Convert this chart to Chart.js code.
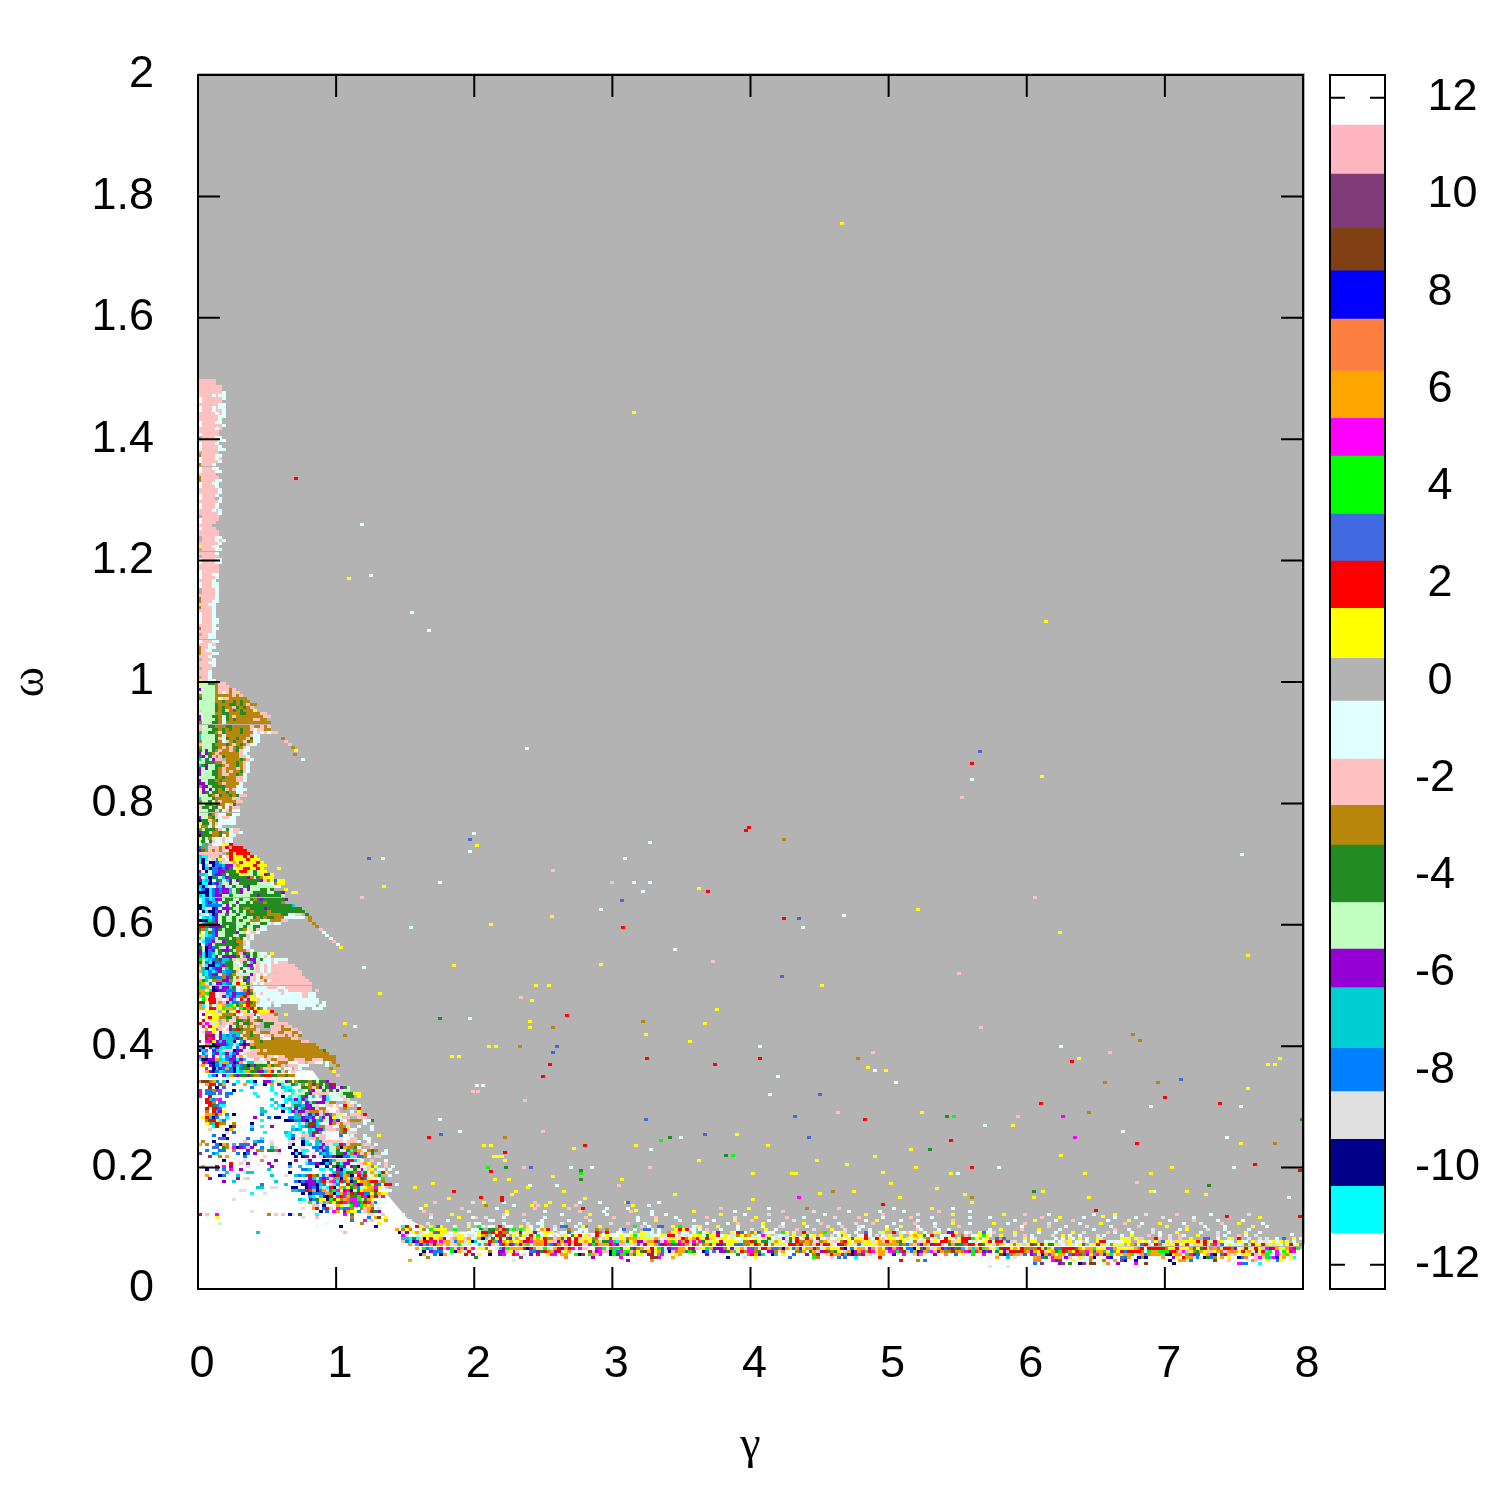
<!DOCTYPE html>
<html>
<head>
<meta charset="utf-8">
<script src="https://cdn.jsdelivr.net/npm/chart.js@4"></script>
<style>
  body { margin: 0; background: #fff; }
  canvas { position: absolute; top: 0; }
</style>
</head>
<body>
<canvas id="mapChart" width="1500" height="1500" style="left:0"></canvas>
<canvas id="barChart" width="220" height="1500" style="left:1280px"></canvas>
<script>
// one letter per colour level of the map
const levelChars = ['w','P','U','B','b','o','O','m','l','r','R','y','.','c','p','g','f','G','v','t','d','e','n','C'];
const levelColors = ['#ffffff','#ffb6c1','#803c78','#804014','#0000ff','#ff7f40','#ffa500','#ff00ff','#00ff00','#4169e1','#ff0000','#ffff00','#b3b3b3','#e0ffff','#ffc0c0','#b8860b','#228b22','#c0ffc0','#9400d3','#00ced1','#007fff','#e0e0e0','#00008b','#00ffff'];

const xTicks = [0,1,2,3,4,5,6,7,8];
const yTicks = [0,0.2,0.4,0.6,0.8,1,1.2,1.4,1.6,1.8,2];
const barTicks = [-12,-10,-8,-6,-4,-2,0,2,4,6,8,10,12];
const barEdges = [-12.5,-11.36,-10.39,-9.42,-8.44,-7.55,-6.3,-5.51,-4.55,-3.37,-2.55,-1.6,-0.41,0.47,1.5,2.47,3.44,4.63,5.41,6.38,7.45,8.44,9.32,10.43,11.44,12.47];
const barColors = ['#ffffff','#00ffff','#00008b','#e0e0e0','#007fff','#00ced1','#9400d3','#c0ffc0','#228b22','#b8860b','#ffc0c0','#e0ffff','#b3b3b3','#ffff00','#ff0000','#4169e1','#00ff00','#ff00ff','#ffa500','#ff7f40','#0000ff','#804014','#803c78','#ffb6c1','#ffffff'];

// lower edge of the grey area, gamma and omega
const floorGamma = [0,0.83,1.0,1.1,1.23,1.42,1.52,1.7,3.6,5.8,6,8];
const floorOmega = [0.36,0.36,0.307,0.25,0.196,0.142,0.115,0.095,0.09,0.08,0.072,0.066];

// grid cells, top row first, space = nothing drawn
const rowsPink = [ // omega 1.495 down to 1.0
"ppppp","ppppp","ppppppp","ppppppp","pppppppc","ppppcpcc","cppppppc","cpppppp","ppppppcc","cpppcpcc",
"cpppcppc","pppppcpc","ppppppcc","ppppppc","cppppcc","cppppppc","pppppcp","pppppp","cppppp",".ppppcc",
"ppppppcc","cppppc","cpppppc","cpppppcc",".ppppp","gppppcc","cppppcp","cpppppc","gpppc","cpppcc",
"cppppcc","ppppp","gppppp","gppppcc","cpppcc","cppppc","ppppppc","ppppppc","cppppc","cpppp.c",
"ppppppc","cppppc","cppppc","ppppcpc","ppppppc",".ppppp","cppppp","cpppp","pppp","cpppp",
"pppppp","pppppp",".ppppcc",".ppppcpc","ppppppc","ypppcc",".ppppcc","pppppc",".ppppp","cppppcc",
"cppppcc","pppppp","pppppp","cppppp","cpppcc","cppppc","ppppc","cpppcc","cpppcc",".ppppc",
".ppppc","pppppc","gppppc","gpppcc","pppcc","gpppc","ppppc","cpppc","cpppc","cpppcc",
"cpppcc","ppppc","gpppcc","ppppc",".ppcc","pppcc","cpppcc","pppcp","gppcc","gpcc",
"gpppcc","pppc",".pppc","pppcc","ppppc",".ppp","pppc","pppc",".ppc","yppcc"];

const rowsFan = [ // omega 0.995 down
"yGGffgpp","GGGGGgppp","vGGGGgpppgp","GGGGGgpcpgpp","gGGGGgggggpgp","fGGGGgcppggggg","GGGGGggfggfgfgg","GGGGGfgggffgfgpgg",
"GGGGGfgfggpfgfgp","pGGGGfgfpgfgfgggy","GGGGGggffgggffggggpp","vGGGffgcfgpggggggggpp","vGGGGfgcfgfgggggppgg","gGGGffgcggggggggggggg","pGGffgggffgggggpggpgp","pGGGffgfgfggfggpcppgg",
"gGGffgpfggggfgggcpcpcpp","tGGGGfgcgggggggpcc","tGGGGfpcfggfggpfcc      g","gGGGGfgcpgfggpfgcc       p","pGGGfgggfgpgfgpcc         p","gGGGffgpgpgfgpc            g","fGvGfgpggpgfpcc             y","vGvfgpggggggpc",
"fvGfpgpfggggppc","tGfGvpp.ggggfgpc              c","yGfffggpgggfgpc","tfvGGffgpggfgpc","vGvGGfgpgggpgpc","vGGGffgpgpggfpc","vGGGffgppggfgc","eGGGGfgfgggppc",
"vGGffgfggggppc","vvGfffgpggggc","gvvGffffgggcc","GvGvGfgfpgpccc","yvfGffggfggcc","GGGfgpfggfgfpp","tGGGfgggggpp","gGGfGgpggggpp",
"eGffgfggcpf","pffGffcgcgpp","eGGffpgcpgcc","GGGfgpccggcc","vGGgfpcppcc","nffpgfccccc","yffGgpccccc","Gggcgcc",
"gGfffgpcfcpp","vffGggfggcppc","nfffggfcgcc","yfGgGccpcc","Gfcfpccpcc","Gtg.cccyyR","dgtpppgpRpRRR","vfgpgpgpcRRRRR",
"ppppppp.gRyRRRR","tCCpppgcpRyyyRyRy","CnCepdypcRyyyyRyyy","CnenndCeey.yRcyyyRy","wnCenddtvveOyyyyRyyy","wntnddvdvfGyyRRyyRy    y","vwnGddvvfffyRRyGfGyy","ttCcdvvfGfffyyGGfGyvfy","vGCnfdGtvfffffvgGfgyyy"];

const rowsMid = [ // omega 0.67 down
"vCtnwfdGtvGvffffffvpgydyy","nCCndvtGGvGGfffffGGGGcgyy","tnCewdtvGGfGGfvGGGGGGGcc","CdnCdvdvvtGfvGvGGGffGf   y","nnnCdvdvvtGfvGGGffffGGffv  yy","tCnCdvvGGfGGGGGffvffffffG","GCdCtvvGffGGfGGfgfvffffffv","wCdvtdGffGGvGGfGfffgffffg",
"nCdddddGvGfGffffffffffffffft","nCeenvGvvfGGfggffffvffffffffff","wnCnndvGvGfGfGfgffffgffffffffff","CewCnvGGfGGfGGffffffggggffccpp f","wCtCdvGfGGfGGfGGfgfgffgggcccccc g","nnntdvGfGGfGfGGgggGGGgggpp      g","ytfffvGffffGGGfGGcffcpcc         g","RRfvvvvfGffGGfGGffcc              g",
"fgtGdvfGfffGfgGGfpcc               p","gwCfdvGGfffvGpcppc                  c","yGCtdvGGffGGffpc                     c","tGdddGfffGfgfcpc                      c","wCddvGGvfffggpc                        p","nwdvGfffffffgpc                         c","fGnvdfGGvGfggcc                          y","vendvGfvvfGgggpc",
"vCndtGfGfGfgpvfGfGcc y","fCndCvGvvvvfGtvGfGcpc","lGCtdfvttfpGppfvvGfccpcccc","fGdCnddtffGcpfGtvpcccpcppp","OeCnntdvffGecfvvGpcpcppppppp","etnCdvvetfGyfcpfepcpcpppppppp","OtCdCdvtddfpcfcGepcpcppppppppp","GtCdvvGgdfgGeeGvpcpcpppppppppp",
"eGtdfddgvfGgpfvepcgpppppppppppp","OftGgggvvgGpcvdepcpgcppppppppppp","lOGdGvvtddGRyefpcpcpppppppppppppp","ltOGnvCvvtfceyfpccccpppccpppppppp","OOGtnnvvdddcpgvgcccccccppcppppppp p","gOlRRwepdtvdddRfpcpcccccpcccccppcc","OlwRRwevCdvtgRpypcccccccccccccppcc","wlyRReewpvtwRpvyypccpcccccccccccccc",
"BBwRReopvCddtgRfgpcccpccccccccccccc c","OCwgwpyOtlyfgyRggcccc cc     ccccc cc","OOwRRpylOOtclfgRyfgc         cc  ccc","wwyyye.yfpyRpyfcRyyyyR","wvywyyegggfwwpppfcppppg  y","wwyRyyggffpgppgpcgppppp","wRwyye.pgeeffgfpgffpppp","Rpmeey.pepgfpffgpp.fffpppp                y",
"wmGRyeppwvGfgpgpg..ffpppgpp                  c","wwOwygpwpvfRfggggp...pppgggpp","wemmywvewtttgegfppgggppggppggp","wwBRvGvtdtrteggfggcppgpppgpgpg            g","wwRmRwvtttdvfpggggpccfgggggpp","UwmRyvtvttnctvwpggfgggggggggggpp","wwOCnvvvdteCvnvOgggggggggggggggggg","tnwvCvtCttwdpvcffgggggggggggggggggg",
"ntmwvtCeppnvvwGpppgpggggggggggggggggf","wdCwdvCtvCdvwepppggggggggggggggggggggg","mOrwvwCedtveOcpppppgppcppggggggggggggggg","CnnvvOtCdvvCvtccppcppggpppggpppggpppgggg","wRmbndCOOdnvOctteGGcfcpgggcccpp ppcc c g","eOwvndCvtCvtdfnfvfffOfggp pppccc     c  g","wwmwnCvdOdnCfffOffgpppcc cc pc        g","wwOvndCtrdnCtCOffvvtOR fpg p  c        y","w  CdnwvCOfvffvfggfRRffggfgg            p"];

const rowsLow = [ // omega 0.34 down, left of the grey edge
"oBBgOd tn  C  tCn  vvtGGGvfGgfffgfGffv","  ORR fO  d  O  C  n O vCGeftGgGgBgfGfvR","   B n r       d     C  tCC c ffgpgvGfvvGvfG","m rrgfm   n C        C   CtC Cp fvGGfefGvGGG",
"m ddd r dd      C     C e  CGGGfvpppppccGGfffyy","m  R    r        C      n C GCfvGtcCvCcccpGff y","  Rtdgm        w  w  t   CtCvCvtcc  vCGcccpG","  RRg rr              t  C CCt vCfvvvpgg   pcG",
"   RfrCC       ww    C Cn  CfdtvvGe  ep pcRyp c","  R RRr           t   C CCt vCfvvvpgg    .g   R","  g Rtvy          tt    n Cvtvv.gggpgp  p   c y","  OOgRO r n       d      w  tgeCvtvptvdOeyc ppp R",
" yRtnd  C   w   v   d nn  ddttvddvGtvGvyG pp  ppp","  gBRyCd          C      nnnddvnCvtdeGvtvec ggg ccf","  ygtRgg  g    n            eCetBBtcc vgpgpp    c","   cCBy  nB    C  C  v     C CtdBvtggpp  gty  c   c",
"   pw   nO     d           tdt  tCvvtppp.gRpcc    c","        e d        C     tC  eCetBBtcc   gfGpp      ","    d  n           w    wCCd  pptvcpp    r  c   c   y","      rrn     d   C    w  Cv etpppgpp    e  pp  cc    ",
" g  n        p  tdd  e    ee  nC  tdppppppcpppc  c","O g  dnOg t ddr v    p    pn  nCt tCvpeCCRdpggg pp c","    rr fg mnvdpv  d  te   n  ee  ddvCdGGgnOggfc   p  ","  d   dd  g   v  gg ffgv    n CC  rCvdGGfGGfCgOpcgfg  c",
"U   dt   w d nd v      e   nCnC  e dtdCGffvCgvgpgpf  cc","   U  g O    d     e        n nv v enddvnnddC.ddgc pp","       n     e    o   v     v  ev   nndtpppvRtpc  p   c","         R  p Uw c  v     n    CddvnntvGfCvvccepOy  c p",
" O   R m v    e      v    t  t    n  n fnfvwvfnGcpgy  p c","  n  r d m  v       t         ddt  CCet vnCGGfpvGpy cc c","        t    ett          n    w    e  tfdCffgmCfcOGCRy  c","  O   nd   t         t   e  tdtdRgfedpvnRdOgn RtRcGOf  c ",
"   v       v ep                 vtedvdpgtnOydOgRdy ccl  ","       v  t           t     dndvvvtdRpgmCRdOnfyOOgRR g  ","                  r      t    nnvvntd pCr cRlmnvOlyfdGRR c","                 tt  ee    nn  nvdnCeCRnGOtyfgdGyOOmycp",
"            ee             ttddRfOnrOpdlmGRmnGfyOOlR  cc","               C   e          n nddrdOgnCOmlRfvRddyfOyy","                                tCctnnRGmRdOfflRmnORpm","          e                  tCcvdfyynlRygOgmmlpfOy",
"                             e  lGdptOgyfRmgfmrgRmpdc c","                                 pp n  cOy GlmdlOyO","                              e  OB dRp mtdrg  gpOm G","               e                   n d mO vOyyd pOBfv",
"R p  m              g p p be f    C       m r    ee cp","  c  y                        e   p         g    d OB y","                                            r   m p   O","      G                              c         g    y",
"                                  c      n         b ","                                                         O","                 t                        P               n    O"];

// bottom band, gamma 1.48 to 3.58, rows from omega 0.1 down
const bandA = [
"CRycRy  y ry   c   y  lcpcc R cc  y pc  c   e rd  c yg   y         l p c  rr  y l   c y",
"gyg  Gg lyyyy  l    ccG  ffg Rf l l yc cOyR c   g  ccc  g  g   cr  c  rrG c    yRyRc  c",
"ev yge  yrryy  y   cc yvRfRyRggccyvcGyv cyyy pccr cc c  Rg R  cc  c  yyGc c  oyy cc c c",
"me cGcyyyGyycc eyy eecyOg.cRfRe.ycgyeR lcyc e ey fyRcypcRy y   yc yl yGGcc yGRRcpcecyy",
"ttCfCpnyRyyOvcpOyypOceOnCGfyvcfvGOceRgyOyRggpOfeRcRpyGyggcpyfyeyygOOpyyyGOpceyyeyRgyO",
"pdCnvORRmRemOOpdOOeyntcGeRgtvOyOGyOvRmOOORyppvOvRpRypOyfOpffmlCOpfyOvvpOORdpmOlymORpm",
"  OetvtdOvOOeOeplGGe ctegvpGdROvdOvOlGOoORtdRgeOvyRRpemlmOOORmvPpeepdpRpyOdvRmfdRmOGy",
"    O ldtpdRpmlpmOvymcyyg  GtvlOOOORnRtyelpGORvORmGmpp  fmlGgtlfGyfvgOeyRyldevdmOOyRv",
"      n vddd  lnOeeR     g  vvpyvp   rdvfRgOvR yO     BpvmPpnldmllpgyfBOvyOdGnpgOOdl",
"     nO  d nO     R v y  n  Bm  Rm e v R  ymm OO  lnB lOPm  nlBllvOdyycvR lm   yO",
"       g             f            U            o       v       m        BBm   O",
"  O                             G                                v      o"];

// gamma 3.58 to 5.73
const bandB = [
"c lcy ev   ycRrc gyr ccc  ly e  Rp   Ol  ccyp  c  rc  Gy  R ecpcy  c  yy  vvy  ce  yrcc",
"yyycfyyRcy eGgygOG cm y ecce y  yfcy y  e cgyc  ccRc e cpy  y  yOyyfcR  cccR  gp ccylyc",
"fRyyRpy yy yc cyc ycyefceGvcfyRcpRp Rc pc yecyfyyyRpcRypcyycy ycy c gcy cRyc yRRRly cy",
"yymfyGyyRcyyyeGggRfydfGeOycpfcRggOgeegOyepegRycOOpyyeyOpRyOgfyccg eyReycRRgpeyRRceecyp",
"BgGgOfyvvfyydrdggyRgyRcgyeycRRgRpOgpRpRRycvRgyeedyGyyyOOOOOOdgdOpgvOyvRRpcfOffdgRRyRfy",
"ePyylOvvvgGveyOemdgeRROrdgnOydOvyOOvgeyOyyyRnedyOOyvoeOydvOmRGddnyfvOeyOvdUvfUteOtORlO",
"f  nd r vvfOtGRgmmgf  vvgeO   gdOcfOpvRfgfy pOnvOmlRmyOOemmlmBpdOnvOtmPvOggBoOgmvlmOvd",
"y   v        f  gROvt  nt y  d   v gB  pROORtvnRrRep cOO  b  m  Pvo   v  o  d y  l  m",
"          n    e  y         r      lg   p r r  C     cR ",
"                                                            R    g rc        c"];

// gamma 5.73 to 7.98
const bandC = [
"  r r     y ce     c c yc y c  ye     yye ypp   Rp  e  p  y   rr  c  yy R  e  e e  c r  y c y c",
"RGRR rpe  c yy  cGc cGpy ccpc  yRRcccccyy  ycyc y rycpypyyyyRpRyeRpyccc ycc ypceecycy y c  cy",
"Gpgpy ygyepyRfyRyffyecpyecyf.yyRGycgyyy yOgcrRpcRgeyyyRcyRcpyyRcgmprcycGcegGRyyRpypyc yRcyl",
"yyCRvRyOyRggggRyfOyrrRRRRfOyOOlyyymrOyyyyyOgRcRRRRRgyyRyyyOfyfRyoOgpRRgvcyBeyRyPmvROyyOmRl",
"v fyvpRRBRgOvOyRpyOflRfoyRggmOdOOtydgyRdRRRRgclOOlllRRgPmPygfOyppyOgpOoOyRyOGvyRCl m lyRm",
"c eRndgOOpr vrpnOmOeOO rRmfgvygmOvOleOyOOlGpOroOOOCnnyOO lmvd yOvn rRpepcyyyRPeOlccmPOle",
"  O  t e     OodfemOOevP  yecon   vb  rdOc bgn    O  vy ROOedcnfdg O y  ndo  pmpltmbyO yC",
"             oo   mvU  cy  c gc  g  O Ub  b  c      n  OOed      B   p      oP  yccdy  c",
"   c         d U    vU f  nU BB  Go  v    m  B       n                  mdd   C",
"G    G                  "];

// looser cells above the band
const upperA = [
"         p          e        c        p            c     c       r        c      ",
"                        g       c      p          p                    c          ",
"     c           p         c          p         p   R      c     c                ",
"      p            e          y          c         p      c       p     c         ",
"c       p     y              pc    p          c       y    c            c   c     ",
"        c       y   cp  e    c           c           p       p      c    p     c  ",
"  c          c           cc        e    c       c     e             c    y      c ",
"  c    e           e cc      c      e  cc     e    c        e    p    c        "];
const upperB = [
"        p       y     c          g        p               c          y     c      ",
"y           c             p        e         c        c      c         p        c ",
"        y      c      e               c           y    p         e         y      ",
"    p       e     y        p    c        e      p      c       p     c          c ",
"c     c     y    p    c      e      c             c  y      c    c         p      ",
"    c     c  p      y     c     y    p    c    e    p     c     p     c    y    c",
" e     y     c      c    pe      c     e   p    ec      c   y    c    e      p   ",
"c   p   c    c   e   y  c     p    e    y   e   c  c    y  c     pc    c  c "];
const upperC = [
"    y     p      c            c     y        e        p         c          e      ",
"c              p    y      c        c     c       e        c         p        y   ",
"       c     y     c    p         c     y           c      p      c      c        ",
" y   c    p      e        c     y      p    c    y      c    e     p    y      c ",
"         c       p    c     e      c       p       y     p    c     c       y   c ",
"c  y     p    y     c         c     p   c      e       c y     e    c      c      ",
" p     y      c    c    y  e      p c    c     e c    y      c    e  c    y   c   ",
"c  y   e  p c     e  y c  c    e c    c  y    p  c  e  pc   y     e c   p c  e"];

// isolated cells, gamma and omega for each colour
const sparseYellow = [[4.66,1.755],[3.16,1.444],[6.14,1.1],[1.09,1.17],[6.11,0.845],[2.02,0.73],[1.35,0.663],[3.63,0.66],[2.56,0.613],[5.21,0.625],[2.12,0.6],[6.24,0.587],[7.6,0.55],[1.85,0.533],[2.92,0.534],[2.45,0.5],[2.54,0.5],[4.52,0.5],[2.42,0.475],[2.4,0.44],[2.4,0.43],[1.32,0.486],[3.67,0.437],[3.76,0.46],[3.56,0.407],[3.24,0.42],[1.84,0.383],[1.89,0.383],[2.11,0.4],[2.16,0.4],[2.07,0.237],[2.12,0.237],[2.72,0.231],[3.17,0.237],[2.14,0.218],[2.17,0.218],[2.2,0.218],[2.22,0.211],[3.63,0.211],[2.57,0.186],[2.15,0.18],[2.25,0.18],[3.07,0.18],[1.7,0.174],[1.57,0.168],[2.39,0.168],[2.65,0.161],[2.3,0.161],[3.45,0.155],[1.82,0.149],[2.8,0.149],[2.27,0.155],[3.1,0.143],[2.07,0.143],[2.55,0.143],[1.65,0.137],[2.42,0.137],[2.52,0.137],[2.65,0.137],[3.15,0.137],[3.17,0.13],[3.9,0.255],[4.13,0.237],[4.48,0.211],[4.7,0.205],[4.02,0.19],[4.3,0.19],[4.33,0.19],[4.9,0.218],[4.96,0.192],[5.02,0.174],[5.16,0.23],[5.2,0.2],[5.35,0.165],[5.45,0.19],[5.55,0.155],[5.24,0.29],[4.02,0.148],[4.35,0.15],[4.5,0.158],[4.75,0.16],[5.08,0.15],[5.6,0.142],[4.85,0.365],[4.98,0.36],[6.25,0.22],[6.12,0.16],[6.42,0.19],[6.9,0.16],[7.05,0.2],[7.16,0.16],[7.3,0.155],[7.55,0.24],[7.6,0.33],[7.8,0.37],[7.83,0.38],[7.75,0.37],[5.9,0.27],[6.55,0.12],[6.05,0.15],[6.38,0.38],[6.45,0.15],[6.9,0.19]];
const sparseRed = [[0.71,1.335],[5.6,0.865],[3.97,0.755],[3.99,0.76],[3.69,0.655],[3.08,0.595],[4.24,0.61],[2.67,0.45],[2.55,0.37],[2.5,0.35],[3.25,0.38],[3.74,0.37],[4.07,0.38],[6.33,0.375],[6.1,0.305],[7,0.315],[7.4,0.305],[7.98,0.195],[7.98,0.12],[5.45,0.245],[4.83,0.28],[1.67,0.249],[2.8,0.237],[2.12,0.193],[2.22,0.225],[2.05,0.15],[2.2,0.15],[2.2,0.145],[1.85,0.16],[5.6,0.2],[4.96,0.14],[6.5,0.13],[6.8,0.24],[7.65,0.205],[7.45,0.12]];
const sparseRoyal = [[5.66,0.885],[1.24,0.71],[3.07,0.64],[4.35,0.61],[4.23,0.515],[2.6,0.4],[2.57,0.39],[4.5,0.32],[3.24,0.28],[4.32,0.285],[7.12,0.345],[1.97,0.74],[1.76,0.255],[3.67,0.255],[2.41,0.2],[4.42,0.25]];
const sparsePink = [[1.19,0.645],[5.53,0.81],[2.57,0.69],[3,0.67],[3.73,0.54],[5.51,0.52],[6.06,0.645],[2.34,0.48],[5.67,0.43],[4.89,0.39],[6.6,0.39],[2.03,0.325],[2.37,0.31],[2.5,0.26],[2.36,0.2],[5.94,0.285],[6.8,0.175],[4.63,0.29],[3.05,0.17],[3.27,0.2],[1.99,0.325]];
const sparseCyan = [[1.19,1.26],[1.25,1.175],[1.55,1.115],[1.67,1.085],[2.38,0.89],[5.6,0.84],[1.34,0.71],[2,0.75],[1.97,0.72],[3.09,0.71],[3.27,0.735],[1.75,0.67],[3.16,0.67],[3.27,0.67],[3.22,0.655],[4.68,0.615],[4.38,0.595],[1.54,0.595],[3.45,0.56],[2.92,0.625],[1.2,0.53],[7.56,0.715],[7.55,0.3],[3.28,0.23],[1.97,0.445],[1.75,0.28],[2.02,0.335],[1.9,0.26],[2.06,0.335],[2.6,0.17],[2.4,0.17],[2.7,0.2],[2.85,0.2],[3.5,0.25],[4.07,0.4],[4.14,0.32],[4.2,0.35],[4.9,0.36],[5.05,0.34],[5.7,0.27],[6.25,0.4],[6.9,0.3],[7.45,0.25],[7.5,0.2],[7.9,0.15],[7.92,0.09],[6.92,0.16],[5.5,0.19],[5.8,0.2],[6.7,0.26]];
const sparseGoldenrod = [[0.7,0.88],[4.24,0.74],[2.33,0.4],[2.57,0.43],[3.22,0.44],[4.78,0.38],[6.77,0.42],[6.82,0.41],[6.95,0.34],[6.57,0.34],[7.8,0.24],[2.22,0.25],[6.45,0.29],[5.6,0.15],[4.6,0.16]];
const sparseForest = [[1.75,0.445],[2.05,0.1],[2.23,0.2],[2.77,0.195],[3.42,0.25],[5.42,0.285],[7.99,0.28],[7.32,0.17],[6.05,0.16],[5.3,0.23],[3.82,0.22],[2.77,0.18]];
const sparseLime = [[3.35,0.245],[3.87,0.22],[2.1,0.2],[5.47,0.285],[6.35,0.25],[2.77,0.19]];
const sparseMagenta = [[6.26,0.285],[6.35,0.25],[4.35,0.15]];

// draws the 4x3 block used as point for a colour
function cellImage(color) {
    const c = document.createElement('canvas');
    c.width = 4;
    c.height = 3;
    const g = c.getContext('2d');
    g.fillStyle = color;
    g.fillRect(0, 0, 4, 3);
    return c;
}

// Collect the cells per colour
const cells = {};
levelChars.forEach(ch => { cells[ch] = []; });
const cellW = 0.025, cellH = 0.005;

function addRows(rows, topRow, startCol) {
    rows.forEach((row, i) => {
        [...row].forEach((ch, j) => {
            if (ch !== ' ' && cells[ch]) {
                cells[ch].push({ x: (startCol + j + 0.5) * cellW, y: (topRow - i + 0.5) * cellH });
            }
        });
    });
}
function addSparse(list, ch) {
    list.forEach(p => cells[ch].push({ x: p[0], y: p[1] }));
}

addRows(rowsPink, 299, 0);
addRows(rowsFan, 199, 0);
addRows(rowsMid, 134, 0);
addRows(rowsLow, 68, 0);
addRows(upperA, 28, 59);
addRows(upperB, 26, 143);
addRows(upperC, 24, 229);
addRows(bandA, 20, 59);
addRows(bandB, 18, 143);
addRows(bandC, 16, 229);
addSparse(sparseYellow, 'y');
addSparse(sparseRed, 'R');
addSparse(sparseRoyal, 'r');
addSparse(sparsePink, 'p');
addSparse(sparseCyan, 'c');
addSparse(sparseGoldenrod, 'g');
addSparse(sparseForest, 'f');
addSparse(sparseLime, 'l');
addSparse(sparseMagenta, 'm');

const datasets = levelChars.map((ch, i) => ({
    label: ch,
    data: cells[ch],
    pointStyle: cellImage(levelColors[i]),
    pointRadius: 2,
    order: 1
}));
datasets.push({
    type: 'line',
    data: floorGamma.map((g, i) => ({ x: g, y: floorOmega[i] })),
    fill: 'end',
    backgroundColor: '#b3b3b3',
    borderWidth: 0,
    pointRadius: 0,
    tension: 0,
    order: 2
});

const tickFont = { family: '"Liberation Sans"', size: 45 };

// inside ticks, frame and the small grey overhang at top and right
const framePlugin = {
    id: 'frame',
    beforeDatasetsDraw(chart) {
        const a = chart.chartArea, ctx = chart.ctx;
        ctx.imageSmoothingEnabled = false;
        ctx.fillStyle = '#b3b3b3';
        ctx.fillRect(a.left, a.top - 2, a.width + 2, 2);
        ctx.fillRect(a.right, a.top - 2, 2, chart.scales.y.getPixelForValue(0.07) - a.top);
    },
    afterDatasetsDraw(chart) {
        const a = chart.chartArea, ctx = chart.ctx;
        ctx.save();
        ctx.strokeStyle = '#000';
        ctx.lineWidth = 2;
        ctx.beginPath();
        xTicks.slice(1, -1).forEach(v => {
            const x = chart.scales.x.getPixelForValue(v);
            ctx.moveTo(x, a.top); ctx.lineTo(x, a.top + 22);
            ctx.moveTo(x, a.bottom); ctx.lineTo(x, a.bottom - 22);
        });
        yTicks.slice(1, -1).forEach(v => {
            const y = chart.scales.y.getPixelForValue(v);
            ctx.moveTo(a.left, y); ctx.lineTo(a.left + 22, y);
            ctx.moveTo(a.right, y); ctx.lineTo(a.right - 22, y);
        });
        ctx.stroke();
        ctx.strokeRect(a.left, a.top, a.width, a.height);
        ctx.restore();
    }
};

new Chart(document.getElementById('mapChart').getContext('2d'), {
    type: 'scatter',
    data: { datasets: datasets },
    plugins: [framePlugin],
    options: {
        responsive: false,
        animation: false,
        events: [],
        layout: { padding: { left: 0, top: 75, right: 197, bottom: 0 } },
        plugins: { legend: { display: false }, tooltip: { enabled: false } },
        scales: {
            x: {
                type: 'linear',
                min: 0,
                max: 8,
                afterBuildTicks: s => { s.ticks = xTicks.map(v => ({ value: v })); },
                afterFit: s => { s.height = 211; },
                grid: { display: false },
                border: { display: false },
                ticks: { color: '#000', font: tickFont, padding: 41, maxRotation: 0, labelOffset: 4, callback: v => String(v) },
                title: { display: true, text: 'γ', color: '#000', font: { family: '"Liberation Serif"', size: 46 }, padding: { top: 30, bottom: 26 } }
            },
            y: {
                type: 'linear',
                min: 0,
                max: 2,
                afterBuildTicks: s => { s.ticks = yTicks.map(v => ({ value: v })); },
                afterFit: s => { s.width = 198; },
                grid: { display: false },
                border: { display: false },
                ticks: { color: '#000', font: tickFont, padding: 36, callback: v => String(v) },
                title: { display: true, text: 'ω', color: '#000', font: { family: '"Liberation Serif"', size: 46 }, padding: { top: 3, bottom: 0 } }
            }
        }
    }
});

// Colour bar
const barPlugin = {
    id: 'barFrame',
    afterDatasetsDraw(chart) {
        const a = chart.chartArea, ctx = chart.ctx;
        ctx.save();
        ctx.strokeStyle = '#000';
        ctx.lineWidth = 2;
        ctx.beginPath();
        [12, -12].forEach(v => {
            const y = chart.scales.y.getPixelForValue(v);
            ctx.moveTo(a.left, y); ctx.lineTo(a.left + 15, y);
            ctx.moveTo(a.right, y); ctx.lineTo(a.right - 15, y);
        });
        ctx.stroke();
        ctx.strokeRect(a.left, a.top, a.width, a.height);
        ctx.restore();
    }
};

new Chart(document.getElementById('barChart').getContext('2d'), {
    type: 'bar',
    data: {
        labels: [''],
        datasets: barColors.map((color, i) => ({
            data: [[barEdges[i], barEdges[i + 1]]],
            backgroundColor: color,
            borderWidth: 0,
            grouped: false,
            barPercentage: 1,
            categoryPercentage: 1
        }))
    },
    plugins: [barPlugin],
    options: {
        responsive: false,
        animation: false,
        events: [],
        layout: { padding: { left: 50, top: 75, right: 0, bottom: 211 } },
        plugins: { legend: { display: false }, tooltip: { enabled: false } },
        scales: {
            x: { display: false },
            y: {
                position: 'right',
                min: -12.5,
                max: 12.47,
                afterBuildTicks: s => { s.ticks = barTicks.map(v => ({ value: v })); },
                afterFit: s => { s.width = 115; },
                grid: { display: false },
                border: { display: false },
                ticks: {
                    color: '#000',
                    font: tickFont,
                    padding: 22,
                    callback: v => (v >= 0 ? ' ' + v : String(v))
                }
            }
        }
    }
});
</script>
</body>
</html>
